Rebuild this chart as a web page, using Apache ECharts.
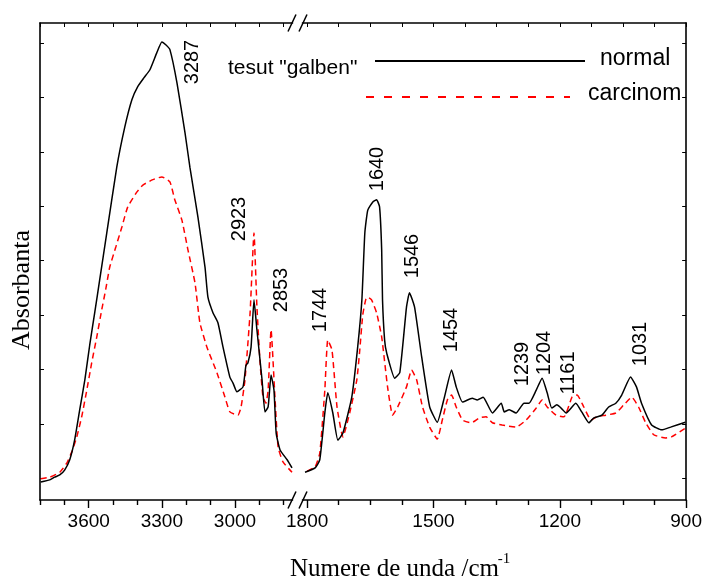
<!DOCTYPE html>
<html>
<head>
<meta charset="utf-8">
<script src="https://cdn.jsdelivr.net/npm/echarts/dist/echarts.min.js"></script>
<style>
  html, body { margin: 0; padding: 0; background: #fff; }
  #echart1 { width: 705px; height: 581px; }
</style>
</head>
<body>
<div id="echart1"></div>
<script>
// spectru IR: [numar de unda, absorbanta]
// regiunea 3800-2760
var normalHigh = [
  [3797,0.033],[3760,0.037],[3740,0.042],[3719,0.046],[3699,0.055],[3678,0.074],[3658,0.110],
  [3637,0.166],[3616,0.221],[3596,0.285],[3575,0.346],[3555,0.405],[3526,0.491],[3485,0.612],
  [3452,0.686],[3423,0.736],[3399,0.760],[3374,0.776],[3349,0.791],[3321,0.822],[3300,0.842],
  [3284,0.837],[3267,0.828],[3238,0.767],[3205,0.675],[3185,0.612],[3152,0.520],[3123,0.428],
  [3111,0.373],[3090,0.344],[3070,0.326],[3049,0.281],[3021,0.226],[3008,0.215],[2992,0.199],
  [2967,0.208],[2955,0.248],[2947,0.252],[2934,0.281],[2922,0.368],[2910,0.313],[2889,0.221],
  [2877,0.162],[2864,0.171],[2852,0.230],[2840,0.202],[2831,0.123],[2815,0.092],[2786,0.074],
  [2766,0.059]
];
var carcinomHigh = [
  [3797,0.039],[3760,0.042],[3719,0.051],[3690,0.068],[3670,0.088],[3649,0.116],[3629,0.153],
  [3608,0.202],[3588,0.252],[3567,0.300],[3547,0.349],[3530,0.388],[3514,0.428],[3489,0.465],
  [3464,0.502],[3440,0.539],[3403,0.566],[3378,0.579],[3337,0.589],[3300,0.594],[3267,0.585],
  [3247,0.552],[3218,0.515],[3193,0.460],[3164,0.399],[3144,0.326],[3115,0.281],[3074,0.234],
  [3041,0.189],[3021,0.162],[2988,0.156],[2975,0.171],[2959,0.221],[2938,0.344],[2922,0.491],
  [2910,0.355],[2897,0.252],[2885,0.189],[2873,0.178],[2864,0.202],[2852,0.313],[2836,0.189],
  [2823,0.097],[2803,0.070],[2766,0.051]
];
// regiunea 1800-900
var normalLow = [
  [1805,0.051],[1781,0.059],[1770,0.074],[1758,0.160],[1751,0.197],[1739,0.160],[1727,0.110],
  [1715,0.123],[1694,0.189],[1680,0.281],[1670,0.368],[1663,0.491],[1656,0.533],[1644,0.548],
  [1635,0.552],[1628,0.539],[1623,0.460],[1621,0.368],[1616,0.294],[1611,0.270],[1592,0.224],
  [1580,0.234],[1564,0.355],[1557,0.381],[1545,0.355],[1528,0.263],[1509,0.171],[1491,0.143],
  [1474,0.189],[1457,0.239],[1446,0.208],[1431,0.180],[1408,0.187],[1396,0.184],[1382,0.189],
  [1360,0.160],[1339,0.178],[1332,0.162],[1320,0.166],[1304,0.160],[1285,0.178],[1273,0.178],
  [1256,0.202],[1242,0.224],[1230,0.197],[1219,0.169],[1207,0.175],[1197,0.169],[1185,0.160],
  [1162,0.178],[1148,0.162],[1131,0.142],[1119,0.151],[1100,0.156],[1084,0.171],[1067,0.178],
  [1053,0.193],[1032,0.226],[1018,0.208],[1006,0.178],[982,0.138],[958,0.129],[937,0.134],
  [902,0.143]
];
var carcinomLow = [
  [1800,0.053],[1781,0.061],[1770,0.086],[1758,0.202],[1751,0.294],[1741,0.276],[1729,0.171],
  [1715,0.116],[1699,0.160],[1682,0.221],[1675,0.276],[1668,0.340],[1661,0.368],[1656,0.373],
  [1647,0.368],[1635,0.344],[1623,0.300],[1609,0.208],[1597,0.156],[1585,0.171],[1564,0.208],
  [1552,0.239],[1540,0.221],[1526,0.171],[1509,0.134],[1491,0.112],[1479,0.147],[1467,0.184],
  [1457,0.193],[1446,0.171],[1431,0.147],[1410,0.142],[1391,0.151],[1375,0.153],[1360,0.142],
  [1337,0.138],[1304,0.134],[1280,0.147],[1256,0.169],[1242,0.184],[1230,0.171],[1209,0.156],
  [1190,0.153],[1171,0.189],[1159,0.193],[1143,0.171],[1126,0.147],[1112,0.153],[1091,0.156],
  [1067,0.160],[1048,0.175],[1029,0.189],[1013,0.171],[996,0.142],[977,0.120],[949,0.114],
  [935,0.116],[902,0.132]
];

var highMajorTicks = [3600, 3300, 3000];
var highMinorTicks = [3800, 3700, 3500, 3400, 3200, 3100, 2900, 2800];
var lowMajorTicks = [1800, 1500, 1200, 900];
var lowMinorTicks = [1725, 1650, 1575, 1425, 1350, 1275, 1125, 1050, 975];
var yTicks = [0.04, 0.14, 0.24, 0.34, 0.44, 0.54, 0.64, 0.74, 0.84];

var peakLabels = ['3287', '2923', '2853', '1744', '1640', '1546', '1454', '1239', '1204', '1161', '1031'];
var seriesNames = ['normal', 'carcinom'];
var legendTitle = 'tesut "galben"';

var myChart = echarts.init(document.getElementById('echart1'));

var font = 'Liberation Sans, Arial, sans-serif';
var serif = 'Liberation Serif, Times New Roman, serif';
var axisColor = '#000';

function xAxes(grid, min, max, major, minor) {
    var all = major.concat(minor);
    return [
        { // jos, etichete + tick-uri mari
            type: 'value', gridIndex: grid, position: 'bottom', inverse: true, min: min, max: max,
            axisLine: { show: true, onZero: false, lineStyle: { color: axisColor, width: 1.6 } },
            axisTick: { show: true, inside: false, length: 8, customValues: major, lineStyle: { color: axisColor, width: 1.4 } },
            axisLabel: {
                show: true, customValues: major, margin: 12, color: '#000', fontSize: 19, fontFamily: font,
                formatter: function (v) { return String(v); }
            },
            splitLine: { show: false }
        },
        { // jos, tick-uri mici
            type: 'value', gridIndex: grid, position: 'bottom', inverse: true, min: min, max: max,
            axisLine: { show: false, onZero: false },
            axisTick: { show: true, inside: false, length: 5, customValues: minor, lineStyle: { color: axisColor, width: 1.4 } },
            axisLabel: { show: false },
            splitLine: { show: false }
        },
        { // sus
            type: 'value', gridIndex: grid, position: 'top', inverse: true, min: min, max: max,
            axisLine: { show: true, onZero: false, lineStyle: { color: axisColor, width: 1.6 } },
            axisTick: { show: true, inside: true, length: 4, customValues: all, lineStyle: { color: axisColor, width: 1 } },
            axisLabel: { show: false },
            splitLine: { show: false }
        }
    ];
}

function yAxis(grid, pos) {
    return {
        type: 'value', gridIndex: grid, position: pos, min: 0, max: 0.877,
        axisLine: { show: true, onZero: false, lineStyle: { color: axisColor, width: 1.6 } },
        axisTick: { show: true, inside: true, length: 4, customValues: yTicks, lineStyle: { color: axisColor, width: 1 } },
        axisLabel: { show: false },
        splitLine: { show: false }
    };
}

function lineSeries(name, data, xi, yi, color, dashed) {
    return {
        name: name, type: 'line', data: data, xAxisIndex: xi, yAxisIndex: yi,
        showSymbol: false, smooth: 0.15, silent: true,
        lineStyle: { color: color, width: 1.5, type: dashed ? [6, 4] : 'solid' },
        z: dashed ? 2 : 3
    };
}

// pozitii etichete de varf (centru), text rotit
var labelPos = [[192, 62], [239, 219], [281, 290], [320, 310], [377, 169], [412, 256],
                [451, 330], [522, 364], [544, 353], [568, 373], [640, 344]];

var graphics = [];
peakLabels.forEach(function (t, i) {
    graphics.push({
        type: 'text', x: labelPos[i][0], y: labelPos[i][1], rotation: Math.PI / 2,
        style: { text: t, fill: '#000', font: '20px ' + font, textAlign: 'center', textVerticalAlign: 'middle', align: 'center', verticalAlign: 'middle' }
    });
});

// legenda
graphics.push(
    { type: 'text', x: 228, y: 68, style: { text: legendTitle, fill: '#000', font: '21px ' + font, textVerticalAlign: 'middle', verticalAlign: 'middle' } },
    { type: 'line', shape: { x1: 375, y1: 61, x2: 585, y2: 61 }, style: { stroke: '#000', lineWidth: 2 } },
    { type: 'text', x: 600, y: 59, style: { text: seriesNames[0], fill: '#000', font: '23px ' + font, textVerticalAlign: 'middle', verticalAlign: 'middle' } },
    { type: 'line', shape: { x1: 366, y1: 97, x2: 570, y2: 97 }, style: { stroke: '#ff0000', lineWidth: 2, lineDash: [8, 10] } },
    { type: 'text', x: 588, y: 94, style: { text: seriesNames[1], fill: '#000', font: '23px ' + font, textVerticalAlign: 'middle', verticalAlign: 'middle' } }
);

// titluri axe
graphics.push(
    { type: 'text', x: 22, y: 290, rotation: Math.PI / 2,
      style: { text: 'Absorbanta', fill: '#000', font: '26px ' + serif, textAlign: 'center', textVerticalAlign: 'middle', align: 'center', verticalAlign: 'middle' } },
    { type: 'text', x: 290, y: 569,
      style: { text: 'Numere de unda /cm', fill: '#000', font: '25px ' + serif, textVerticalAlign: 'middle', verticalAlign: 'middle' } },
    { type: 'text', x: 504, y: 559,
      style: { text: '-1', fill: '#000', font: '15px ' + serif, textAlign: 'center', textVerticalAlign: 'middle', align: 'center', verticalAlign: 'middle' } }
);

// semne de intrerupere a axei
[23, 500].forEach(function (yy) {
    graphics.push(
        { type: 'line', shape: { x1: 288, y1: yy + 8.5, x2: 296, y2: yy - 8.5 }, style: { stroke: '#000', lineWidth: 1.5 } },
        { type: 'line', shape: { x1: 299, y1: yy + 8.5, x2: 307, y2: yy - 8.5 }, style: { stroke: '#000', lineWidth: 1.5 } }
    );
});

option = {
    backgroundColor: '#fff',
    animation: false,
    grid: [
        { left: 40, top: 23, width: 252.5, height: 477 },
        { left: 302.5, top: 23, width: 384.5, height: 477 }
    ],
    xAxis: xAxes(0, 2764, 3800, highMajorTicks, highMinorTicks)
        .concat(xAxes(1, 900, 1811, lowMajorTicks, lowMinorTicks)),
    yAxis: [yAxis(0, 'left'), yAxis(1, 'right')],
    series: [
        lineSeries(seriesNames[1], carcinomHigh, 0, 0, '#ff0000', true),
        lineSeries(seriesNames[0], normalHigh, 0, 0, '#000', false),
        lineSeries(seriesNames[1], carcinomLow, 3, 1, '#ff0000', true),
        lineSeries(seriesNames[0], normalLow, 3, 1, '#000', false)
    ],
    graphic: graphics
};

myChart.setOption(option);
window.addEventListener("resize", function () {
    myChart.resize();
});
</script>
</body>
</html>
